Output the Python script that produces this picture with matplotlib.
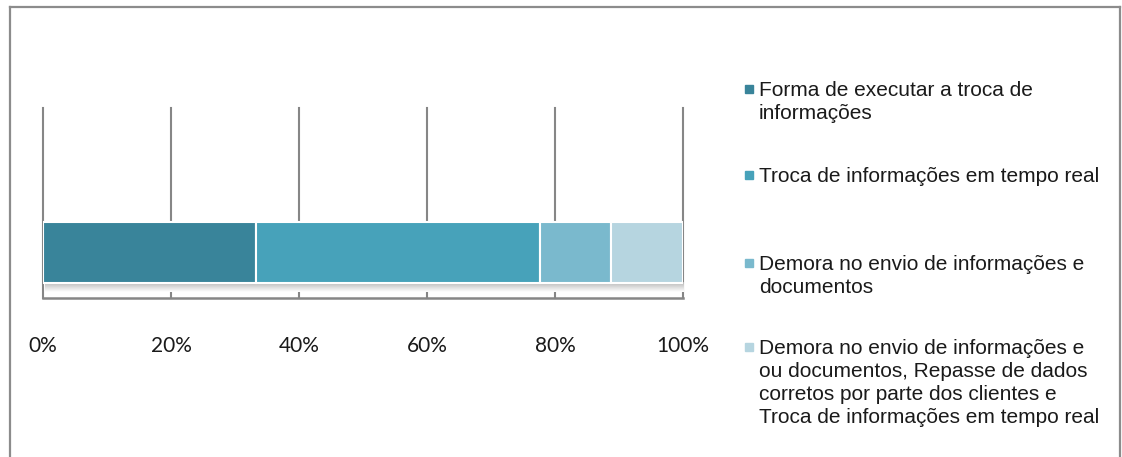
import matplotlib
matplotlib.use("Agg")
import matplotlib.pyplot as plt
import numpy as np
from matplotlib.patches import Rectangle
from matplotlib.lines import Line2D

categories = [
    "Forma de executar a troca de\ninformações",
    "Troca de informações em tempo real",
    "Demora no envio de informações e\ndocumentos",
    "Demora no envio de informações e\nou documentos, Repasse de dados\ncorretos por parte dos clientes e\nTroca de informações em tempo real",
]
values = [33.3, 44.4, 11.1, 11.2]
colors = ["#39849A", "#47A2BA", "#7AB9CD", "#B6D5E0"]
tick_values = [0, 20, 40, 60, 80, 100]
tick_labels = ["0%", "20%", "40%", "60%", "80%", "100%"]

W, H = 1122, 457
fig = plt.figure(figsize=(W / 100, H / 100), dpi=100)

def fx(px): return px / W
def fy(py): return 1 - py / H

# outer border (left, top, right)
border_col = "#8C8C8C"
fig.add_artist(Line2D([fx(9.5), fx(9.5)], [fy(6.5), 0], color=border_col, lw=1.6, transform=fig.transFigure))
fig.add_artist(Line2D([fx(9.5), fx(1120)], [fy(6.5), fy(6.5)], color=border_col, lw=1.6, transform=fig.transFigure))
fig.add_artist(Line2D([fx(1120), fx(1120)], [fy(6.5), 0], color=border_col, lw=1.6, transform=fig.transFigure))

ax = fig.add_axes([fx(43), fy(298), fx(683) - fx(43), (298 - 108) / H])
ax.set_xlim(0, 100)
ax.set_ylim(0, 1)

grid_col = "#868686"
for t in tick_values:
    ax.axvline(t, color=grid_col, lw=1.5, zorder=1, clip_on=False)
ax.axhline(0, color=grid_col, lw=1.8, zorder=1, clip_on=False)

bar_y = 0.2395
bar_h = 0.321

# soft shadow under bar (dark at top, fading down)
g = np.linspace(0.72, 1.0, 30).reshape(-1, 1)
shadow = np.dstack([g, g, g, np.ones_like(g)])
ax.imshow(shadow, extent=[0.3, 100, bar_y - bar_h / 2 - 0.05, bar_y - bar_h / 2],
          aspect="auto", zorder=1.5)

left = 0
for v, c in zip(values, colors):
    ax.barh(bar_y, v, left=left, height=bar_h, color=c, edgecolor="white", linewidth=1.5, zorder=2)
    left += v

ax.set_xticks(tick_values)
ax.set_xticklabels(tick_labels)
ax.set_yticks([])
for s in ax.spines.values():
    s.set_visible(False)
ax.tick_params(axis="x", length=0, pad=27, labelsize=15, labelcolor="#1a1a1a")
for lab in ax.get_xticklabels():
    lab.set_fontfamily(["Lato", "DejaVu Sans"])

# legend drawn manually
legend_y = [89, 175, 263, 347]
for lab, c, y in zip(categories, colors, legend_y):
    fig.add_artist(Rectangle((fx(745), fy(y + 4)), fx(8), 8 / H, color=c, transform=fig.transFigure))
    fig.text(fx(759), fy(y - 7.5), lab, ha="left", va="top", fontsize=15,
             family=["Liberation Sans", "DejaVu Sans"], color="#1a1a1a", linespacing=1.25)

fig.savefig("out.png", dpi=100)
